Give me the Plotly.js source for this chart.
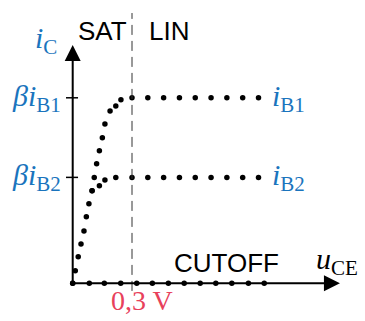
<!DOCTYPE html>
<html>
<head>
<meta charset="utf-8">
<script src="https://cdn.plot.ly/plotly-3.0.1.min.js"></script>
<style>html,body{margin:0;padding:0;background:#fff;}#chart{width:365px;height:321px;}</style>
</head>
<body>
<div id="chart"></div>
<script>
// u_CE in volts (0.3 V marks the SAT/LIN border), i_C normalised so that beta*iB1 = 1
var satBorder = 0.3;
var levelB1 = 1.0;
var levelB2 = 0.571;

// curve for i_B1 (steep rise in saturation, then flat in linear region)
var curveB1_x = [0, 0.013, 0.028, 0.042, 0.057, 0.069, 0.082, 0.098, 0.109, 0.121, 0.135, 0.150, 0.163, 0.189, 0.218, 0.244, 0.30, 0.38, 0.46, 0.54, 0.62, 0.70, 0.78, 0.86, 0.94];
var curveB1_y = [0, 0.068, 0.143, 0.212, 0.282, 0.359, 0.429, 0.499, 0.571, 0.645, 0.715, 0.785, 0.859, 0.929, 0.956, 0.990, 1.0, 1.0, 1.0, 1.0, 1.0, 1.0, 1.0, 1.0, 1.0];

// curve for i_B2 (branches off the common rise)
var curveB2_x = [0.098, 0.135, 0.163, 0.218, 0.30, 0.38, 0.46, 0.54, 0.62, 0.70, 0.78, 0.86, 0.94];
var curveB2_y = [0.499, 0.526, 0.557, 0.571, 0.571, 0.571, 0.571, 0.571, 0.571, 0.571, 0.571, 0.571, 0.571];

// cutoff region (i_C = 0)
var cutoff_x = [0, 0.084, 0.160, 0.243, 0.324, 0.403, 0.484, 0.564, 0.645, 0.724, 0.805, 0.889, 0.969];
var cutoff_y = [0, 0, 0, 0, 0, 0, 0, 0, 0, 0, 0, 0, 0];

// labels
var regionLabels = ['SAT', 'LIN', 'CUTOFF'];
var levelLabelsLeft = ['<i>βi</i><sub>B1</sub>', '<i>βi</i><sub>B2</sub>'];
var levelLabelsRight = ['<i>i</i><sub>B1</sub>', '<i>i</i><sub>B2</sub>'];
var yAxisLabel = '<i>i</i><sub>C</sub>';
var xAxisLabel = '<i>u</i><sub>CE</sub>';
var borderLabel = '0,3 V';

var blue = '#1a74bd';
var red = '#e8415b';
var serif = 'Liberation Serif, serif';
var sans = 'Liberation Sans, Arial, sans-serif';

var dotStyle = {size: 5.5, color: '#000'};
var traces = [
  {x: curveB1_x, y: curveB1_y, mode: 'markers', marker: dotStyle, hoverinfo: 'skip'},
  {x: curveB2_x, y: curveB2_y, mode: 'markers', marker: dotStyle, hoverinfo: 'skip'},
  {x: cutoff_x, y: cutoff_y, mode: 'markers', marker: dotStyle, hoverinfo: 'skip'}
];

var xTip = 1.352, yTip = 1.285;

var shapes = [
  {type: 'line', xref: 'x', yref: 'y', x0: satBorder, x1: satBorder, y0: -0.041, y1: 1.457,
   line: {color: '#333', width: 1, dash: '10px,6px'}},
  {type: 'line', xref: 'x', yref: 'y', x0: -0.034, x1: 0.027, y0: levelB1, y1: levelB1, line: {color: '#000', width: 1.5}},
  {type: 'line', xref: 'x', yref: 'y', x0: -0.034, x1: 0.027, y0: levelB2, y1: levelB2, line: {color: '#000', width: 1.5}}
];

var annotations = [
  // axis arrows
  {x: xTip, y: 0, ax: 0, ay: 0, axref: 'x', ayref: 'y', xref: 'x', yref: 'y', text: '', showarrow: true,
   arrowhead: 2, arrowsize: 1.6, arrowwidth: 2, arrowcolor: '#000'},
  {x: 0, y: yTip, ax: 0, ay: 0, axref: 'x', ayref: 'y', xref: 'x', yref: 'y', text: '', showarrow: true,
   arrowhead: 2, arrowsize: 1.6, arrowwidth: 2, arrowcolor: '#000'},
  // texts
  {x: -0.135, y: 1.31, xref: 'x', yref: 'y', text: yAxisLabel, showarrow: false, font: {family: serif, size: 30, color: blue}},
  {x: 0.285, y: 1.36, xref: 'x', yref: 'y', xanchor: 'right', text: regionLabels[0], showarrow: false, font: {family: sans, size: 26, color: '#000'}},
  {x: 0.376, y: 1.36, xref: 'x', yref: 'y', xanchor: 'left', text: regionLabels[1], showarrow: false, font: {family: sans, size: 26, color: '#000'}},
  {x: 0.5, y: 0.11, xref: 'x', yref: 'y', xanchor: 'left', text: regionLabels[2], showarrow: false, font: {family: sans, size: 26, color: '#000'}},
  {x: -0.05, y: levelB1, xref: 'x', yref: 'y', xanchor: 'right', text: levelLabelsLeft[0], showarrow: false, font: {family: serif, size: 30, color: blue}},
  {x: -0.05, y: levelB2, xref: 'x', yref: 'y', xanchor: 'right', text: levelLabelsLeft[1], showarrow: false, font: {family: serif, size: 30, color: blue}},
  {x: 1.0, y: levelB1, xref: 'x', yref: 'y', xanchor: 'left', text: levelLabelsRight[0], showarrow: false, font: {family: serif, size: 30, color: blue}},
  {x: 1.0, y: levelB2, xref: 'x', yref: 'y', xanchor: 'left', text: levelLabelsRight[1], showarrow: false, font: {family: serif, size: 30, color: blue}},
  {x: 1.22, y: 0.12, xref: 'x', yref: 'y', xanchor: 'left', text: xAxisLabel, showarrow: false, font: {family: serif, size: 30, color: '#000'}},
  {x: 0.183, y: -0.09, xref: 'x', yref: 'y', xanchor: 'left', text: borderLabel, showarrow: false, font: {family: serif, size: 28, color: red}}
];

var layout = {
  width: 365, height: 321,
  margin: {l: 0, r: 0, t: 0, b: 0},
  paper_bgcolor: '#fff', plot_bgcolor: '#fff',
  showlegend: false,
  xaxis: {range: [-0.3678, 1.4788], visible: false, fixedrange: true},
  yaxis: {range: [-0.2032, 1.5272], visible: false, fixedrange: true},
  shapes: shapes,
  annotations: annotations
};

Plotly.newPlot('chart', traces, layout, {staticPlot: true, displayModeBar: false});
</script>
</body>
</html>
